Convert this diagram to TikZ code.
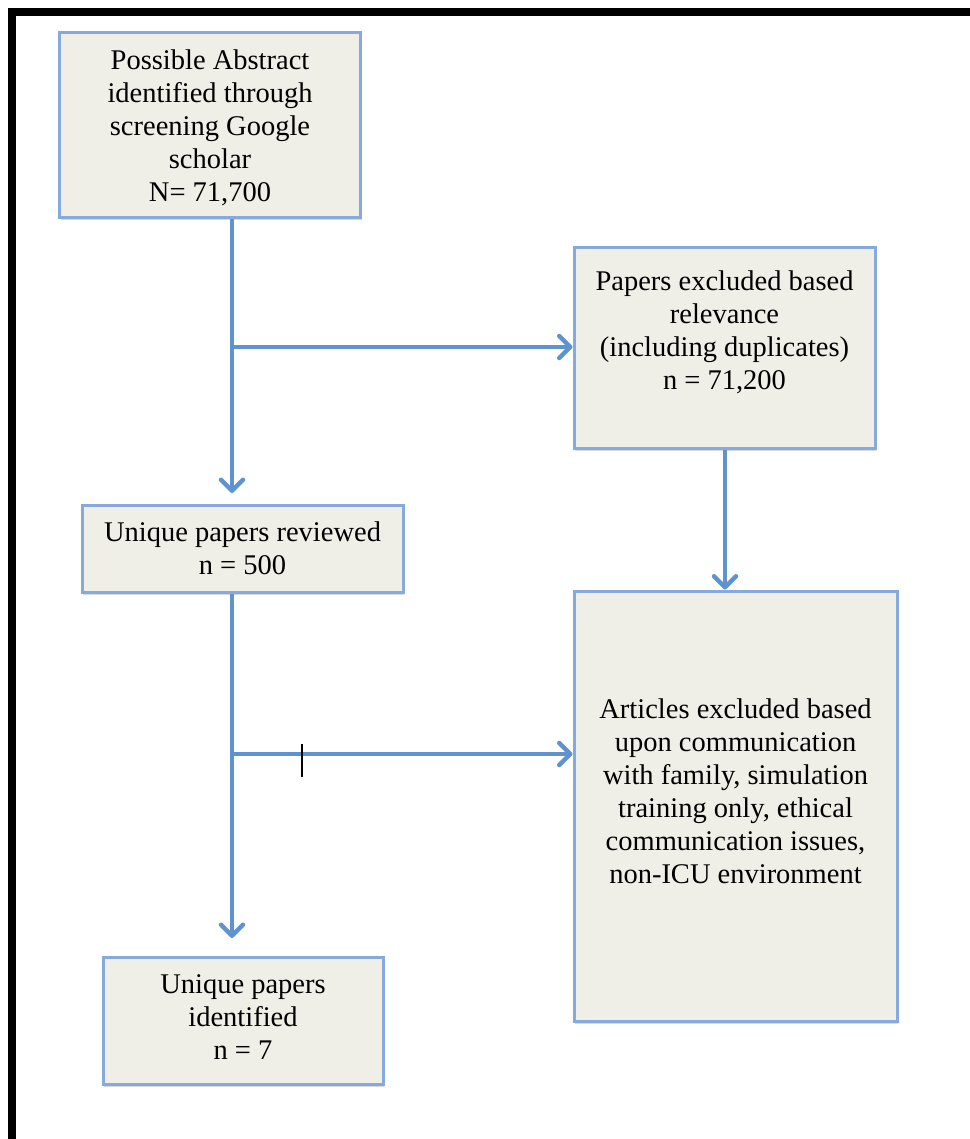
\documentclass[tikz,border=0pt]{standalone}
\usepackage{fontspec}
\setmainfont{Liberation Serif}
\usetikzlibrary{arrows.meta,shadows}
\definecolor{boxfill}{HTML}{EFEEE7}
\definecolor{boxline}{HTML}{86AADB}
\definecolor{flow}{HTML}{5F93CF}
\begin{document}
\begin{tikzpicture}[x=1pt,y=-1pt,
  box/.style={draw=boxline,line width=3pt,fill=boxfill,inner sep=0pt,
    drop shadow={shadow xshift=1pt,shadow yshift=-2.5pt,opacity=0.25,fill=black!60}},
  boxtext/.style={align=center,inner sep=0pt,
    font=\fontsize{28.5}{33}\selectfont},
  flowline/.style={draw=flow,line width=4.5pt},
  flowarrow/.style={flowline,-{Straight Barb[length=11pt,width=22pt,line width=4.5pt,round]}}]
  \useasboundingbox (0,0) rectangle (969,1139);
  % outer frame, running off the right and bottom edges
  \draw[line width=8pt,miter limit=10] (975,12) -- (12,12) -- (12,1145);

  % boxes
  \node[box,minimum width=301pt,minimum height=185pt] (abs) at (210,125.5) {};
  \node[box,minimum width=301pt,minimum height=200pt] (excl) at (724.5,348) {};
  \node[box,minimum width=321pt,minimum height=87pt] (rev) at (242.5,548.5) {};
  \node[box,minimum width=323pt,minimum height=430pt] (art) at (735.5,806) {};
  \node[box,minimum width=280pt,minimum height=127pt] (ident) at (243,1020.5) {};

  % box texts
  \node[boxtext] (absT) at (210,128) {Possible Abstract\\identified through\\screening Google\\scholar\\N= 71,700};
  \node[boxtext] (exclT) at (724.5,332) {Papers excluded based\\relevance\\(including duplicates)\\n = 71,200};
  \node[boxtext] (revT) at (242.5,548) {Unique papers reviewed\\n = 500};
  \node[boxtext] (artT) at (735.5,791) {Articles excluded based\\upon communication\\with family, simulation\\training only, ethical\\communication issues,\\non-ICU environment};
  \node[boxtext] (identT) at (243,1017) {Unique papers\\identified\\n = 7};

  % branch points on the main trunk
  \coordinate (b1) at (232,347);
  \coordinate (b2) at (232,754);
  \coordinate (d1) at (232,493);
  \coordinate (d2) at (232,938);

  % connectors
  \draw[flowline] (abs.south -| b1) -- (b1);
  \draw[flowarrow] (b1) -- (d1);
  \draw[flowarrow] (b1) -- (b1 -| excl.west);
  \draw[flowarrow] (excl.south -| 725,0) -- (art.north -| 725,0);
  \draw[flowline] (rev.south -| b2) -- (b2);
  \draw[flowarrow] (b2) -- (d2);
  \draw[flowarrow] (b2) -- (b2 -| art.west);

  % stray text cursor mark
  \draw[line width=1.8pt] (302,744) -- (302,777);
\end{tikzpicture}
\end{document}
